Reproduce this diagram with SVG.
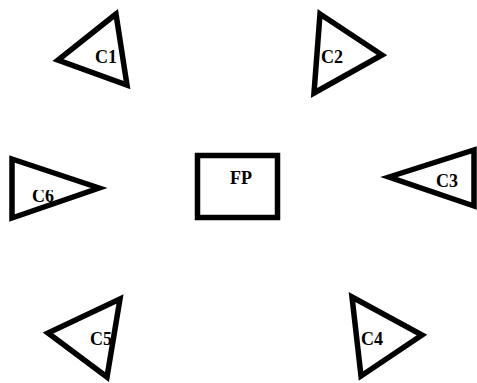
<svg xmlns="http://www.w3.org/2000/svg" width="477" height="383" viewBox="0 0 477 383">
<style>
.s{fill:none;stroke:#000;stroke-width:5.5;stroke-linejoin:miter;stroke-miterlimit:10}
.t{font-family:"Liberation Serif","Times New Roman",serif;font-weight:bold;font-size:18px;fill:#000;text-anchor:middle}
</style>
<defs><clipPath id="c6clip"><rect x="0" y="190" width="110" height="40"/></clipPath></defs>
<rect width="477" height="383" fill="#fff"/>
<g id="connectors"></g>
<g id="FP"><rect class="s" x="197.5" y="155.5" width="80" height="62"/><text class="t" x="241" y="184">FP</text></g>
<g id="C1"><polygon class="s" points="116,14 58,60 127,85"/><text class="t" x="106" y="63">C1</text></g>
<g id="C2"><polygon class="s" points="320,14 382,55 314,93"/><text class="t" x="332" y="63">C2</text></g>
<g id="C3"><polygon class="s" points="389,177 474,150 474,206"/><text class="t" x="447" y="187">C3</text></g>
<g id="C4"><polygon class="s" points="352,297 422,335 361,376"/><text class="t" x="372" y="345">C4</text></g>
<g id="C5"><polygon class="s" points="120,299 48,333 107,377"/><text class="t" x="101" y="345">C5</text></g>
<g id="C6"><polygon class="s" points="12,159 99,188 12,218"/><text class="t" x="43" y="202" clip-path="url(#c6clip)">C6</text></g>
</svg>
